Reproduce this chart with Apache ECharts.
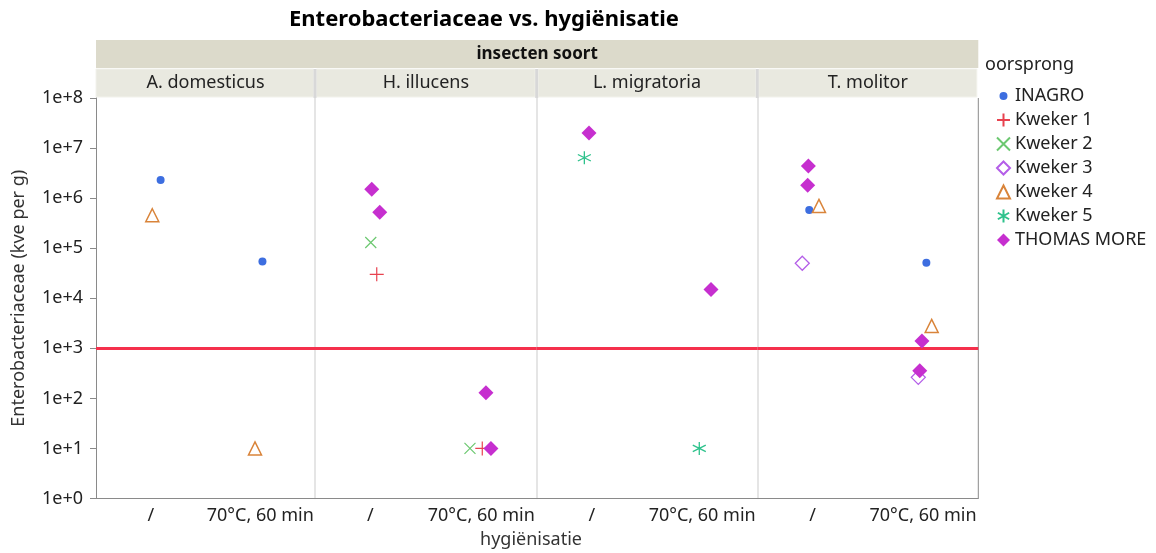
<!DOCTYPE html>
<html><head><meta charset="utf-8">
<script src="https://cdn.jsdelivr.net/npm/echarts@6/dist/echarts.min.js"></script>
<style>html,body{margin:0;padding:0;background:#fff}#c{width:1156px;height:553px}</style>
</head><body><div id="c"></div>
<script>
// ---------- data ----------
const panels = ['A. domesticus', 'H. illucens', 'L. migratoria', 'T. molitor'];
const treatments = ['/', '70°C, 60 min'];
const origins = ['INAGRO', 'Kweker 1', 'Kweker 2', 'Kweker 3', 'Kweker 4', 'Kweker 5', 'THOMAS MORE'];
// each record: [panel index, treatment index, Enterobacteriaceae (kve per g)]
const inagro     = [[0,0,2.3e6],[0,1,5.4e4],[3,0,5.8e5],[3,1,5.1e4]];
const kweker1    = [[1,0,3.0e4],[1,1,10]];
const kweker2    = [[1,0,1.3e5],[1,1,10]];
const kweker3    = [[3,0,5.0e4],[3,1,263]];
const kweker4    = [[0,0,4.55e5],[0,1,10],[3,0,7.0e5],[3,1,2.8e3]];
const kweker5    = [[2,0,6.4e6],[2,1,10]];
const thomasMore = [[1,0,1.5e6],[1,0,5.2e5],[1,1,130],[1,1,10],[2,0,2.0e7],[2,1,1.5e4],[3,0,4.4e6],[3,0,1.8e6],[3,1,1.4e3],[3,1,357]];
// horizontal jitter of each record (fraction of a treatment slot)
const inagroJitter     = [0.09, 0.02, -0.03, 0.03];
const kweker1Jitter    = [0.057, 0.009];
const kweker2Jitter    = [0.003, -0.102];
const kweker3Jitter    = [-0.093, -0.043];
const kweker4Jitter    = [0.014, -0.048, 0.058, 0.078];
const kweker5Jitter    = [-0.068, -0.026];
const thomasMoreJitter = [0.012, 0.084, 0.042, 0.087, -0.026, 0.08, -0.038, -0.044, -0.01, -0.03];
const threshold = 1000;
const yMin = 1, yMax = 1e8;

// ---------- styles ----------
const FONT = '"Noto Sans", "DejaVu Sans", sans-serif';
const FS = 18;
const seriesData = [inagro, kweker1, kweker2, kweker3, kweker4, kweker5, thomasMore];
const seriesJitter = [inagroJitter, kweker1Jitter, kweker2Jitter, kweker3Jitter, kweker4Jitter, kweker5Jitter, thomasMoreJitter];
const styles = [
  {symbol: 'circle', size: 8, itemStyle: {color: '#3d6ee0', opacity: 1}},
  {symbol: 'path://M5,0L5,10M0,5L10,5', size: 14, itemStyle: {color: '#e8424f', borderColor: '#e8424f', borderWidth: 1.2, opacity: 1}},
  {symbol: 'path://M0,0L10,10M0,10L10,0', size: 11, itemStyle: {color: '#6cc870', borderColor: '#6cc870', borderWidth: 1.2, opacity: 1}},
  {symbol: 'diamond', size: 14, itemStyle: {color: 'rgba(255,255,255,0)', borderColor: '#b45ee8', borderWidth: 1.3, opacity: 1}},
  {symbol: 'triangle', size: 13, itemStyle: {color: 'rgba(255,255,255,0)', borderColor: '#d9843a', borderWidth: 1.5, opacity: 1}},
  {symbol: 'path://M5,0L5,10M0.67,2.5L9.33,7.5M0.67,7.5L9.33,2.5', size: 13, itemStyle: {color: '#2ec28c', borderColor: '#2ec28c', borderWidth: 1.3, opacity: 1}},
  {symbol: 'diamond', size: 15, itemStyle: {color: '#c62fcf', opacity: 1}}
];

// ---------- layout ----------
const plotTop = 98, plotBottom = 498.5;
const panelLeft = [96, 315, 536.7, 757.3];
const plotRight = 978.3;
const panelWidth = panelLeft.map((l, i) => (i < 3 ? panelLeft[i + 1] : plotRight) - l);

const grids = [], xAxes = [], yAxes = [], series = [];
panels.forEach((p, i) => {
  grids.push({left: panelLeft[i], top: plotTop, width: panelWidth[i], height: plotBottom - plotTop});
  xAxes.push({
    type: 'value', gridIndex: i, min: 0, max: 2, interval: 0.5,
    axisLine: {show: true, lineStyle: {color: '#8a8a8a', width: 1}},
    axisTick: {show: false}, splitLine: {show: false},
    axisLabel: {
      color: '#222', fontFamily: FONT, fontSize: FS, margin: 8,
      formatter: v => (Math.abs(v - 0.5) < 1e-6 ? treatments[0] : Math.abs(v - 1.5) < 1e-6 ? treatments[1] : '')
    }
  });
  yAxes.push({
    type: 'log', logBase: 10, gridIndex: i, min: yMin, max: yMax, interval: 1,
    name: i === 0 ? 'Enterobacteriaceae (kve per g)' : '',
    nameLocation: 'middle', nameGap: 68,
    nameTextStyle: {color: '#333', fontFamily: FONT, fontSize: FS},
    axisLine: {show: true, lineStyle: {color: i === 0 ? '#8a8a8a' : '#dcdcdc', width: i === 0 ? 1 : 1.5}},
    axisTick: {show: i === 0, length: 6, lineStyle: {color: '#8a8a8a'}},
    splitLine: {show: false},
    axisLabel: {
      show: i === 0, color: '#222', fontFamily: FONT, fontSize: FS, margin: 13,
      formatter: v => '1e+' + Math.round(Math.log10(v))
    }
  });
  // threshold line
  series.push({
    type: 'scatter', xAxisIndex: i, yAxisIndex: i, data: [], silent: true, z: 1,
    markLine: {
      silent: true, symbol: ['none', 'none'], label: {show: false},
      lineStyle: {color: '#f5304c', width: 3, type: 'solid', opacity: 1},
      emphasis: {disabled: true},
      data: [{yAxis: threshold}]
    }
  });
});

origins.forEach((name, k) => {
  panels.forEach((p, i) => {
    const pts = [];
    seriesData[k].forEach((r, j) => {
      if (r[0] === i) pts.push([r[1] + 0.5 + seriesJitter[k][j], r[2]]);
    });
    if (!pts.length) return;
    series.push({
      type: 'scatter', name, xAxisIndex: i, yAxisIndex: i, z: 3 + k,
      symbol: styles[k].symbol, symbolSize: styles[k].size,
      itemStyle: styles[k].itemStyle, data: pts,
      emphasis: {disabled: true}
    });
  });
});

// ---------- header strips / decorations ----------
const graphics = [
  {type: 'rect', shape: {x: panelLeft[0], y: 40, width: plotRight - panelLeft[0], height: 28}, style: {fill: '#dcdacb'}, silent: true},
  {type: 'text', style: {text: 'insecten soort', x: (panelLeft[0] + plotRight) / 2, y: 54, align: 'center', verticalAlign: 'middle',
    font: 'bold 17px ' + FONT, fill: '#111'}, silent: true},
  {type: 'text', style: {text: 'Enterobacteriaceae vs. hygiënisatie', x: 484, y: 20, align: 'center', verticalAlign: 'middle',
    font: 'bold 22px ' + FONT, fill: '#000'}, silent: true},
  {type: 'text', style: {text: 'hygiënisatie', x: 531, y: 540, align: 'center', verticalAlign: 'middle',
    font: FS + 'px ' + FONT, fill: '#333'}, silent: true},
  {type: 'text', style: {text: 'oorsprong', x: 985, y: 65, align: 'left', verticalAlign: 'middle',
    font: FS + 'px ' + FONT, fill: '#222'}, silent: true},
  {type: 'line', shape: {x1: plotRight, y1: plotTop, x2: plotRight, y2: plotBottom}, style: {stroke: '#8a8a8a', lineWidth: 1}, silent: true}
];
panels.forEach((p, i) => {
  graphics.push({type: 'rect', shape: {x: panelLeft[i] + (i ? 1.5 : 0), y: 69, width: panelWidth[i] - (i ? 1.5 : 0) - 1.5, height: 28},
    style: {fill: '#e9e9e0', stroke: '#f2f2ec', lineWidth: 1}, silent: true});
  graphics.push({type: 'text', style: {text: p, x: panelLeft[i] + panelWidth[i] / 2, y: 83, align: 'center', verticalAlign: 'middle',
    font: FS + 'px ' + FONT, fill: '#222'}, silent: true});
  if (i > 0) graphics.push({type: 'rect', shape: {x: panelLeft[i] - 1.5, y: 69, width: 3, height: 29}, style: {fill: '#d8d8d8'}, silent: true});
});

const chart = echarts.init(document.getElementById('c'), null, {renderer: 'canvas'});
chart.setOption({
  animation: false,
  grid: grids, xAxis: xAxes, yAxis: yAxes, series,
  legend: {
    orient: 'vertical', left: 991, top: 82, itemWidth: 13, itemHeight: 13, itemGap: 6, itemTextGap: 12,
    selectedMode: false,
    textStyle: {color: '#222', fontFamily: FONT, fontSize: FS, lineHeight: 18},
    data: origins.map((n, k) => k === 0 ? {name: n, icon: 'path://M0,0M13,13M6.5,2.5A4,4,0,1,1,6.49,2.5Z'} : {name: n})
  },
  graphic: graphics
});
</script></body></html>
